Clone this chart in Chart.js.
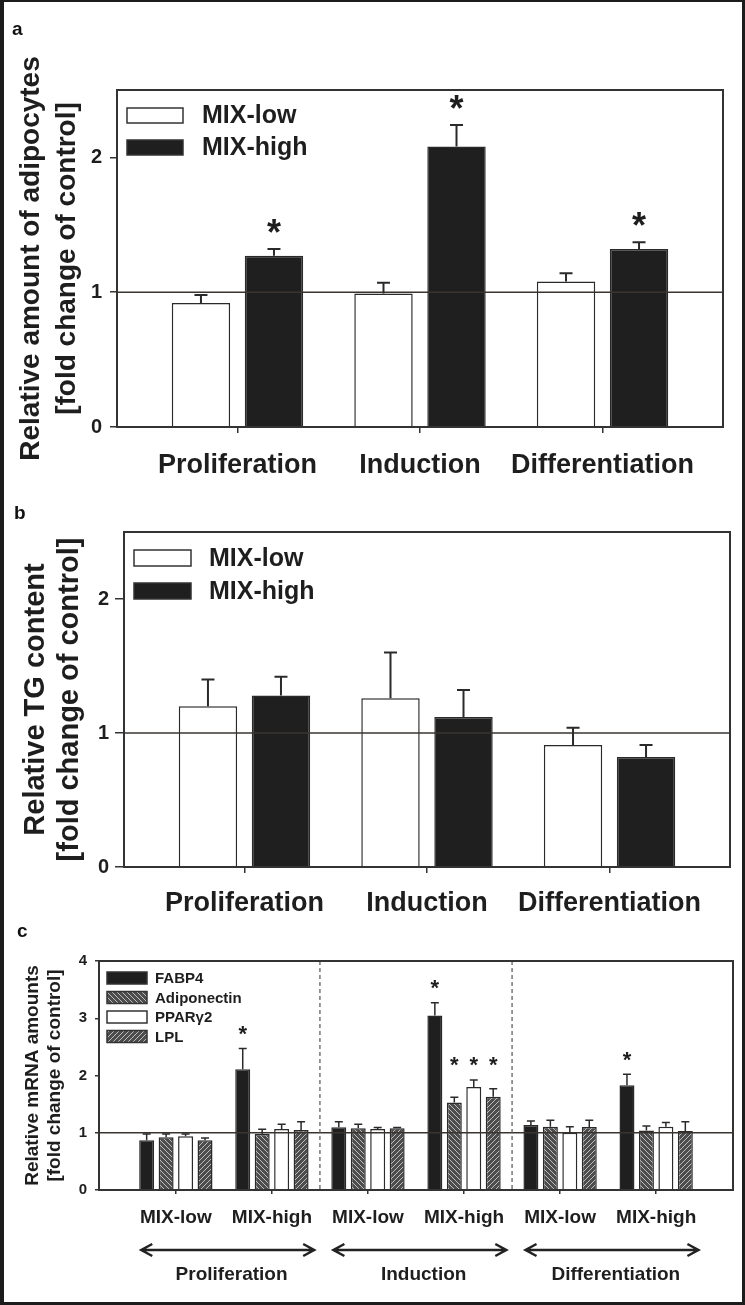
<!DOCTYPE html>
<html>
<head>
<meta charset="utf-8">
<title>Adipocytes, TG content and mRNA amounts</title>
<script src="https://cdn.jsdelivr.net/npm/chart.js@4.4.1/dist/chart.umd.min.js"></script>
<style>
  body { margin: 0; background: #fff; }
  #figure { position: relative; width: 745px; height: 1305px; overflow: hidden; background: #fff; }
  .panel { position: absolute; left: 0; width: 745px; }
  .letter { position: absolute; font: bold 19px "Liberation Sans", Arial, sans-serif; line-height: 19px; color: #111; }
  #frame { position: absolute; left: 0; top: 0; width: 745px; height: 1305px; box-sizing: border-box;
           border-style: solid; border-color: #1c1c1c; border-width: 2px 3px 3px 4px; pointer-events: none; }
</style>
</head>
<body>
<div id="figure">
  <div class="panel" style="top:0;height:480px"><canvas id="chartA"></canvas></div>
  <div class="panel" style="top:480px;height:450px"><canvas id="chartB"></canvas></div>
  <div class="panel" style="top:930px;height:375px"><canvas id="chartC"></canvas></div>
  <div class="letter" style="left:12px;top:19px">a</div>
  <div class="letter" style="left:14px;top:503px">b</div>
  <div class="letter" style="left:17px;top:921px">c</div>
  <div id="frame"></div>
</div>
<script>
// ---- data ----
const phases = ['Proliferation', 'Induction', 'Differentiation'];

// a: relative amount of adipocytes (bar value, top of error bar, significant?)
const adipLow = [0.92, 0.99, 1.08];
const adipLowErr = [0.98, 1.07, 1.14];
const adipLowSig = [false, false, false];
const adipHigh = [1.27, 2.08, 1.32];
const adipHighErr = [1.32, 2.24, 1.37];
const adipHighSig = [true, true, true];
const ticksAB = [0, 1, 2];

// b: relative TG content
const tgLow = [1.20, 1.26, 0.91];
const tgLowErr = [1.40, 1.60, 1.04];
const tgLowSig = [false, false, false];
const tgHigh = [1.28, 1.12, 0.82];
const tgHighErr = [1.42, 1.32, 0.91];
const tgHighSig = [false, false, false];

// c: relative mRNA amounts
const groupsC = ['MIX-low', 'MIX-high', 'MIX-low', 'MIX-high', 'MIX-low', 'MIX-high'];
const fabp4 = [0.87, 2.11, 1.095, 3.05, 1.135, 1.83];
const fabp4Err = [0.98, 2.47, 1.19, 3.27, 1.205, 2.02];
const fabp4Sig = [false, true, false, true, false, true];
const adipoq = [0.92, 0.98, 1.08, 1.53, 1.105, 1.04];
const adipoqErr = [0.98, 1.06, 1.15, 1.62, 1.22, 1.12];
const adipoqSig = [false, false, false, true, false, false];
const pparg2 = [0.94, 1.065, 1.065, 1.80, 1.0, 1.105];
const pparg2Err = [0.98, 1.15, 1.09, 1.92, 1.105, 1.18];
const pparg2Sig = [false, false, false, true, false, false];
const lpl = [0.87, 1.05, 1.08, 1.63, 1.10, 1.03];
const lplErr = [0.91, 1.19, 1.09, 1.77, 1.22, 1.19];
const lplSig = [false, false, false, true, false, false];
const ticksC = [0, 1, 2, 3, 4];

// ---- helpers ----
const FONT = '"Liberation Sans", Arial, sans-serif';
Chart.defaults.font.family = FONT;
Chart.defaults.color = '#1e1e1e';
Chart.defaults.animation = false;

function hatch(direction) {
    const c = document.createElement('canvas');
    c.width = 5; c.height = 5;
    const g = c.getContext('2d');
    g.fillStyle = '#4d4d4d';
    g.fillRect(0, 0, 5, 5);
    g.strokeStyle = '#bdbdbd';
    g.lineWidth = 1;
    for (const k of [-5, 0, 5]) {
        g.beginPath();
        if (direction > 0) { g.moveTo(k, 5); g.lineTo(k + 5, 0); }
        else { g.moveTo(k, 0); g.lineTo(k + 5, 5); }
        g.stroke();
    }
    return g.createPattern(c, 'repeat');
}

function points(values) {
    return values.map((v, i) => ({ x: i, y: v }));
}

function starLevel(sets, i, j) {
    if (i === 0) return sets[0].errors[j];
    let m = 0;
    sets.forEach((d, k) => { if (k > 0 && d.stars[j]) m = Math.max(m, d.errors[j]); });
    return m;
}

const extras = {
    id: 'extras',
    afterDatasetsDraw(chart, args, opts) {
        const ctx = chart.ctx, area = chart.chartArea;
        const x = chart.scales.x, y = chart.scales.y;
        const sets = chart.data.datasets;
        ctx.save();
        // control level
        const y1 = y.getPixelForValue(opts.refLine);
        ctx.strokeStyle = '#3a3431';
        ctx.lineWidth = 1.5;
        ctx.beginPath(); ctx.moveTo(area.left, y1); ctx.lineTo(area.right, y1); ctx.stroke();
        // phase dividers
        (opts.dividers || []).forEach(v => {
            const px = x.getPixelForValue(v);
            ctx.save();
            ctx.setLineDash([4, 3]);
            ctx.strokeStyle = '#555';
            ctx.lineWidth = 1.2;
            ctx.beginPath(); ctx.moveTo(px, area.top); ctx.lineTo(px, area.bottom); ctx.stroke();
            ctx.restore();
        });
        // error bars
        ctx.strokeStyle = '#2a2a2a';
        ctx.lineWidth = opts.errWidth;
        sets.forEach((ds, i) => {
            chart.getDatasetMeta(i).data.forEach((bar, j) => {
                const top = y.getPixelForValue(ds.errors[j]);
                ctx.beginPath();
                ctx.moveTo(bar.x, bar.y); ctx.lineTo(bar.x, top);
                ctx.moveTo(bar.x - opts.cap / 2, top); ctx.lineTo(bar.x + opts.cap / 2, top);
                ctx.stroke();
            });
        });
        // significance stars
        ctx.fillStyle = '#1e1e1e';
        ctx.font = 'bold ' + opts.starSize + 'px ' + FONT;
        ctx.textAlign = 'center';
        ctx.textBaseline = 'alphabetic';
        sets.forEach((ds, i) => {
            chart.getDatasetMeta(i).data.forEach((bar, j) => {
                if (!ds.stars[j]) return;
                const cy = y.getPixelForValue(starLevel(sets, i, j)) - opts.starGap;
                ctx.fillText('*', bar.x, cy + 0.56 * opts.starSize);
            });
        });
        ctx.restore();
    },
    afterDraw(chart, args, opts) {
        const ctx = chart.ctx, area = chart.chartArea;
        const x = chart.scales.x;
        ctx.save();
        ctx.strokeStyle = '#333';
        ctx.lineWidth = 2;
        ctx.strokeRect(area.left, area.top, area.width, area.height);
        // legend boxes inside the plot
        const lg = opts.legend;
        chart.data.datasets.forEach((ds, i) => {
            const cy = area.top + lg.top + i * lg.row;
            const bx = area.left + lg.left;
            ctx.fillStyle = ds.backgroundColor;
            ctx.fillRect(bx, cy - lg.h / 2, lg.w, lg.h);
            ctx.strokeStyle = '#333';
            ctx.lineWidth = 1.5;
            ctx.strokeRect(bx, cy - lg.h / 2, lg.w, lg.h);
            ctx.fillStyle = '#1e1e1e';
            ctx.font = lg.font;
            ctx.textAlign = 'left';
            ctx.textBaseline = 'middle';
            ctx.fillText(ds.label, bx + lg.w + lg.gap, cy + 1);
        });
        // phase arrows under the group labels
        if (opts.phases) {
            const ay = area.bottom + 60;
            ctx.strokeStyle = '#222';
            ctx.lineWidth = 2.5;
            opts.phases.forEach((name, p) => {
                const x0 = x.getPixelForValue(2 * p - 0.36);
                const x1 = x.getPixelForValue(2 * p + 1.44);
                ctx.beginPath();
                ctx.moveTo(x0, ay); ctx.lineTo(x1, ay);
                ctx.moveTo(x0 + 11, ay - 6); ctx.lineTo(x0, ay); ctx.lineTo(x0 + 11, ay + 6);
                ctx.moveTo(x1 - 11, ay - 6); ctx.lineTo(x1, ay); ctx.lineTo(x1 - 11, ay + 6);
                ctx.stroke();
                ctx.fillStyle = '#1e1e1e';
                ctx.font = 'bold 19px ' + FONT;
                ctx.textAlign = 'center';
                ctx.textBaseline = 'alphabetic';
                ctx.fillText(name, x.getPixelForValue(2 * p + 0.58), area.bottom + 90);
            });
        }
        ctx.restore();
    }
};

function scaleX(labels, min, max, size, tickLength, padding, height) {
    return {
        type: 'linear', min: min, max: max, offset: false,
        afterBuildTicks: s => { s.ticks = labels.map((l, i) => ({ value: i })); },
        afterFit: s => { s.height = height; },
        ticks: { callback: v => labels[v], autoSkip: false, maxRotation: 0,
                 font: { size: size, weight: 'bold' }, padding: padding, color: '#1e1e1e' },
        grid: { drawOnChartArea: false, offset: false, tickLength: tickLength, color: '#333', lineWidth: 1.5 },
        border: { color: '#333', width: 1.5 }
    };
}

function scaleY(tickValues, max, size, tickLength, padding, width, title) {
    return {
        type: 'linear', min: 0, max: max,
        afterBuildTicks: s => { s.ticks = tickValues.map(v => ({ value: v })); },
        afterFit: s => { s.width = width; },
        ticks: { font: { size: size, weight: 'bold' }, padding: padding, color: '#1e1e1e' },
        grid: { drawOnChartArea: false, tickLength: tickLength, color: '#333', lineWidth: 1.5 },
        border: { color: '#333', width: 1.5 },
        title: title
    };
}

function bar(label, values, errors, stars, color) {
    return { label: label, data: points(values), errors: errors, stars: stars,
             backgroundColor: color, borderColor: '#2a2a2a', borderWidth: 1.5 };
}

// ---- a ----
new Chart(document.getElementById('chartA'), {
    type: 'bar',
    data: { datasets: [
        bar('MIX-low', adipLow, adipLowErr, adipLowSig, '#ffffff'),
        bar('MIX-high', adipHigh, adipHighErr, adipHighSig, '#1f1f1f')
    ] },
    options: {
        responsive: true, maintainAspectRatio: false,
        layout: { padding: { top: 90, right: 22, left: 0, bottom: 0 } },
        datasets: { bar: { categoryPercentage: 0.8, barPercentage: 0.8 } },
        scales: {
            x: scaleX(phases, -0.66, 2.66, 27, 6, 16, 53),
            y: scaleY(ticksAB, 2.5, 20, 7, 8, 117, {
                display: true, color: '#1e1e1e',
                text: ['Relative amount of adipocytes', '[fold change of control]'],
                font: { size: 28, weight: 'bold', lineHeight: 1.29 }, padding: { top: 13, bottom: 0 }
            })
        },
        plugins: {
            legend: { display: false }, tooltip: { enabled: false },
            extras: { refLine: 1, cap: 13, errWidth: 2, starSize: 36, starGap: 24,
                      legend: { left: 10, top: 25.5, row: 32, w: 56, h: 15, gap: 19, font: 'bold 25px ' + FONT } }
        }
    },
    plugins: [extras]
});

// ---- b ----
new Chart(document.getElementById('chartB'), {
    type: 'bar',
    data: { datasets: [
        bar('MIX-low', tgLow, tgLowErr, tgLowSig, '#ffffff'),
        bar('MIX-high', tgHigh, tgHighErr, tgHighSig, '#1f1f1f')
    ] },
    options: {
        responsive: true, maintainAspectRatio: false,
        layout: { padding: { top: 52, right: 15, left: 0, bottom: 0 } },
        datasets: { bar: { categoryPercentage: 0.8, barPercentage: 0.8 } },
        scales: {
            x: scaleX(phases, -0.66, 2.66, 27, 6, 14, 63),
            y: scaleY(ticksAB, 2.5, 20, 9, 6, 124, {
                display: true, color: '#1e1e1e',
                text: ['Relative TG content', '[fold change of control]'],
                font: { size: 29, weight: 'bold', lineHeight: 1.17 }, padding: { top: 19, bottom: 0 }
            })
        },
        plugins: {
            legend: { display: false }, tooltip: { enabled: false },
            extras: { refLine: 1, cap: 13, errWidth: 2, starSize: 36, starGap: 24,
                      legend: { left: 10, top: 26, row: 33, w: 57, h: 16, gap: 18, font: 'bold 25px ' + FONT } }
        }
    },
    plugins: [extras]
});

// ---- c ----
new Chart(document.getElementById('chartC'), {
    type: 'bar',
    data: { datasets: [
        bar('FABP4', fabp4, fabp4Err, fabp4Sig, '#1f1f1f'),
        bar('Adiponectin', adipoq, adipoqErr, adipoqSig, hatch(-1)),
        bar('PPARγ2', pparg2, pparg2Err, pparg2Sig, '#ffffff'),
        bar('LPL', lpl, lplErr, lplSig, hatch(1))
    ] },
    options: {
        responsive: true, maintainAspectRatio: false,
        layout: { padding: { top: 31, right: 12, left: 0, bottom: 0 } },
        datasets: { bar: { categoryPercentage: 0.81, barPercentage: 0.77 } },
        scales: {
            x: scaleX(groupsC, -0.8, 5.8, 19, 4, 12, 115),
            y: scaleY(ticksC, 4, 15, 4, 8, 99, {
                display: true, color: '#1e1e1e',
                text: ['Relative mRNA amounts', '[fold change of control]'],
                font: { size: 19, weight: 'bold', lineHeight: 1.16 }, padding: { top: 22, bottom: 0 }
            })
        },
        plugins: {
            legend: { display: false }, tooltip: { enabled: false },
            extras: { refLine: 1, cap: 8, errWidth: 1.5, starSize: 22, starGap: 20,
                      dividers: [1.5, 3.5], phases: phases,
                      legend: { left: 8, top: 17, row: 19.5, w: 40, h: 12, gap: 8, font: 'bold 15px ' + FONT } }
        }
    },
    plugins: [extras]
});
</script>
</body>
</html>
